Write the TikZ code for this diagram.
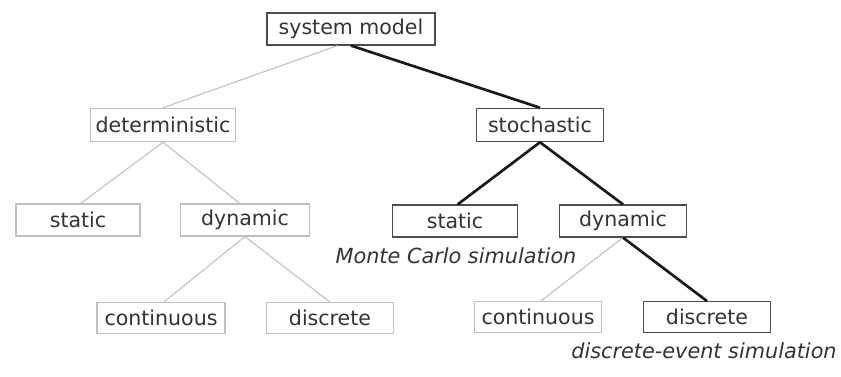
\documentclass[tikz,border=0pt]{standalone}
\usepackage{fontspec}
\setmainfont{DejaVu Sans}
\begin{document}
\begin{tikzpicture}[x=0.75pt,y=-0.75pt,
  box/.style={draw=#1, line width=0.9pt, minimum height=24pt, inner sep=0pt, text=black!80,
    font=\fontsize{15.4}{18}\selectfont},
  box/.default={black!70},
  lbox/.style={box=black!25},
  note/.style={text=black!80, inner sep=0pt, font=\fontsize{15.6}{19}\itshape},
  light/.style={draw=black!25, line width=0.8pt},
  heavy/.style={draw=black!90, line width=2pt}]
\useasboundingbox (0,0) rectangle (841,376);
\node[box, minimum width=126pt] (sm) at (351,29) {system model};
\node[lbox, minimum width=109pt, minimum height=25pt] (det) at (163,125) {deterministic};
\node[box, minimum width=95pt, minimum height=25pt] (sto) at (540,125) {stochastic};
\node[lbox, minimum width=93pt] (ds) at (78,220) {static};
\node[lbox, minimum width=97pt] (dd) at (245,220) {dynamic};
\node[box, minimum width=94pt] (ss) at (455,221) {static};
\node[box, minimum width=95pt] (sd) at (623,221) {dynamic};
\node[lbox, minimum width=96pt, minimum height=23pt] (dc) at (161,318) {continuous};
\node[lbox, minimum width=95pt, minimum height=23pt] (dx) at (330,318) {discrete};
\node[lbox, minimum width=95pt, minimum height=23pt] (sc) at (538,317) {continuous};
\node[box, minimum width=95pt, minimum height=23pt] (sx) at (707,317) {discrete};
\node[note] (mc) at (456,256) {Monte Carlo simulation};
\node[note] (de) at (704,351) {discrete-event simulation};
\draw[light] ([xshift=-10pt]sm.south) -- (det.north);
\draw[heavy] (sm.south) -- (sto.north);
\draw[light] (det.south) -- ([xshift=2pt]ds.north);
\draw[light] (det.south) -- ([xshift=-4pt]dd.north);
\draw[light] (dd.south) -- ([xshift=2pt]dc.north);
\draw[light] (dd.south) -- (dx.north);
\draw[heavy] (sto.south) -- ([xshift=2pt]ss.north);
\draw[heavy] (sto.south) -- (sd.north);
\draw[light] (sd.south) -- ([xshift=2pt]sc.north);
\draw[heavy] (sd.south) -- (sx.north);
\end{tikzpicture}
\end{document}
